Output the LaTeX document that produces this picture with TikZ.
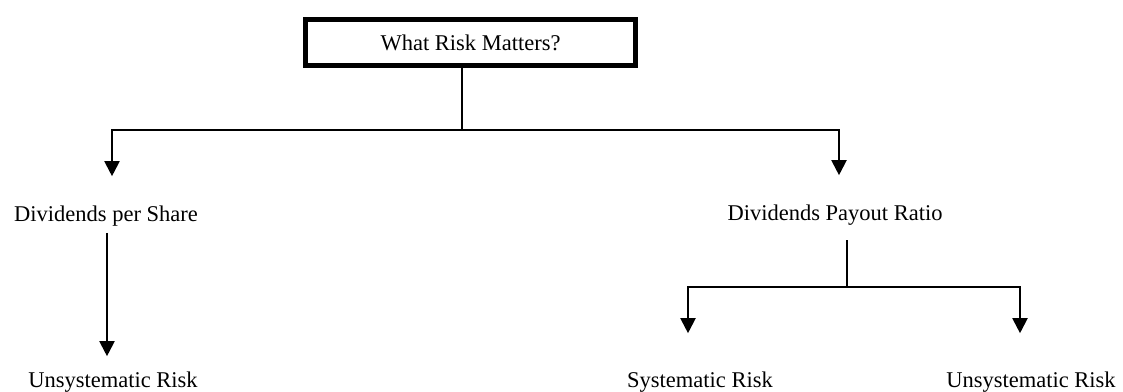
\documentclass[tikz,border=0pt]{standalone}
\usepackage{fontspec}
\setmainfont{Liberation Serif}
\usepackage{tikz}
\usetikzlibrary{arrows.meta,positioning,calc}
\tikzset{
  label/.style={inner sep=0pt,anchor=base,font=\fontsize{22.5}{27}\selectfont},
  titlebox/.style={draw=black,line width=5pt,minimum width=330pt,minimum height=46pt,
                   inner sep=0pt,font=\fontsize{22.5}{27}\selectfont},
  link/.style={line width=2pt,draw=black},
  downarr/.style={-{Triangle[length=15pt,width=15pt]},line width=2pt,draw=black}
}
\begin{document}
\begin{tikzpicture}[x=1pt,y=-1pt]
    \path[use as bounding box] (0,0) rectangle (1123,391);

    \node[titlebox] (risk) at (470.5,42.5) {What Risk Matters?};

    \node[label] (dps) at (106,221) {Dividends per Share};
    \node[label] (dpr) at (835,220) {Dividends Payout Ratio};

    \node[label] (unsysL) at (113,387) {Unsystematic Risk};
    \node[label] (sys) at (700,387) {Systematic Risk};
    \node[label] (unsysR) at (1031,387) {Unsystematic Risk};

    \coordinate (split) at (462,130);
    \coordinate (splitR) at (847,287);

    \draw[link] (risk.south -| split) -- (split);
    \draw[downarr,shorten >=29pt] (split) -| ([xshift=6pt]dps.north);
    \draw[downarr,shorten >=29pt] (split) -| ([xshift=4pt]dpr.north);

    \draw[downarr,shorten <=7pt,shorten >=15pt] ([xshift=1pt]dps.south)
      -- ([xshift=1pt]dps.south |- unsysL.north);

    \draw[link,shorten <=15pt] (dpr.south -| splitR) -- (splitR);
    \draw[downarr,shorten >=38pt] (splitR) -| ([xshift=-12pt]sys.north);
    \draw[downarr,shorten >=38pt] (splitR) -| ([xshift=-11pt]unsysR.north);
  \end{tikzpicture}
\end{document}
